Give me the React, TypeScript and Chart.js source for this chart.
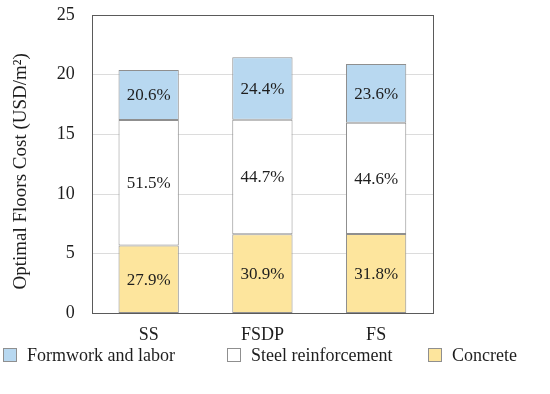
import React, { useEffect, useRef } from "react";
import { Chart, registerables } from "chart.js";

Chart.register(...registerables);

const categories = ["SS", "FSDP", "FS"];
const seriesNames = ["Concrete", "Steel reinforcement", "Formwork and labor"];
const concrete = [5.69, 6.63, 6.65];
const steel = [10.51, 9.59, 9.32];
const formwork = [4.2, 5.23, 4.93];
const concretePct = ["27.9%", "30.9%", "31.8%"];
const steelPct = ["51.5%", "44.7%", "44.6%"];
const formworkPct = ["20.6%", "24.4%", "23.6%"];
const yTicks = [0, 5, 10, 15, 20, 25];

const FONT = "'Liberation Serif', 'Times New Roman', serif";
const TEXT = "#1e1e1e";
const BORDER = "#8f8f8f";

const labelPlugin = {
  id: "segLabels",
  afterDatasetsDraw(chart: any) {
    const ctx = chart.ctx;
    ctx.save();
    ctx.font = `17px ${FONT}`;
    ctx.fillStyle = TEXT;
    ctx.textAlign = "center";
    ctx.textBaseline = "middle";
    chart.data.datasets.forEach((ds: any, di: number) => {
      const meta = chart.getDatasetMeta(di);
      meta.data.forEach((el: any, i: number) => {
        const p = el.getProps(["x", "y", "base"], true);
        ctx.fillText(ds.pctLabels[i], p.x, (p.y + p.base) / 2 + 1);
      });
    });
    ctx.restore();
  },
};

const framePlugin = {
  id: "frame",
  afterDraw(chart: any) {
    const { ctx, chartArea } = chart;
    ctx.save();
    ctx.strokeStyle = "#5a5a5a";
    ctx.lineWidth = 1;
    ctx.strokeRect(
      Math.round(chartArea.left) + 0.5,
      Math.round(chartArea.top) + 0.5,
      Math.round(chartArea.right - chartArea.left),
      Math.round(chartArea.bottom - chartArea.top)
    );
    ctx.restore();
  },
};

// legend order (dataset indices) and item box left edges
const legendOrder = [2, 1, 0];
const legendBoxX = [3, 227, 428];
const legendY = 355;

const legendPlugin = {
  id: "customLegend",
  afterDraw(chart: any) {
    const ctx = chart.ctx;
    ctx.save();
    ctx.font = `18px ${FONT}`;
    ctx.textBaseline = "middle";
    ctx.textAlign = "left";
    legendOrder.forEach((di, k) => {
      const ds = chart.data.datasets[di];
      const x = legendBoxX[k];
      ctx.fillStyle = ds.backgroundColor;
      ctx.fillRect(x, legendY - 7, 14, 14);
      ctx.strokeStyle = BORDER;
      ctx.lineWidth = 1;
      ctx.strokeRect(x + 0.5, legendY - 6.5, 13, 13);
      ctx.fillStyle = TEXT;
      ctx.fillText(ds.label, x + 24, legendY + 1);
    });
    ctx.restore();
  },
};

export default function App() {
  const ref = useRef<HTMLCanvasElement>(null);
  useEffect(() => {
    if (!ref.current) return;
    const chart = new Chart(ref.current, {
      type: "bar",
      data: {
        labels: categories,
        datasets: [
          {
            label: seriesNames[0],
            data: concrete,
            pctLabels: concretePct,
            backgroundColor: "#fde59d",
            borderColor: BORDER,
            borderWidth: 1,
            borderSkipped: false,
          } as any,
          {
            label: seriesNames[1],
            data: steel,
            pctLabels: steelPct,
            backgroundColor: "#ffffff",
            borderColor: BORDER,
            borderWidth: 1,
            borderSkipped: false,
          } as any,
          {
            label: seriesNames[2],
            data: formwork,
            pctLabels: formworkPct,
            backgroundColor: "#b8d8f0",
            borderColor: BORDER,
            borderWidth: 1,
            borderSkipped: false,
          } as any,
        ],
      },
      options: {
        responsive: false,
        animation: false,
        layout: { padding: { top: 15, right: 0, left: 10, bottom: 45 } },
        datasets: { bar: { barPercentage: 0.53, categoryPercentage: 1 } },
        plugins: {
          legend: { display: false },
          tooltip: { enabled: false },
        },
        scales: {
          x: {
            stacked: true,
            grid: { display: false },
            border: { display: false },
            ticks: { font: { family: FONT, size: 18 }, color: TEXT, padding: 3 },
          },
          y: {
            stacked: true,
            min: 0,
            max: 25,
            afterBuildTicks: (s: any) => {
              s.ticks = yTicks.map((v) => ({ value: v }));
            },
            afterFit: (s: any) => {
              s.paddingTop = 0;
              s.paddingBottom = 0;
            },
            grid: { color: "#dcdcdc", drawTicks: false },
            border: { display: false },
            ticks: { font: { family: FONT, size: 18 }, color: TEXT, padding: 17 },
            title: {
              display: true,
              text: "Optimal Floors Cost (USD/m²)   ",
              font: { family: FONT, size: 19 },
              color: TEXT,
              padding: { top: 0, bottom: 7 },
            },
          },
          y2: {
            position: "right",
            display: true,
            grid: { display: false },
            border: { display: false },
            ticks: { display: false },
            afterFit: (s: any) => {
              s.width = 117;
              s.paddingTop = 0;
              s.paddingBottom = 0;
            },
          },
        },
      },
      plugins: [labelPlugin, framePlugin, legendPlugin],
    } as any);
    return () => chart.destroy();
  }, []);
  return (
    <div style={{ position: "absolute", left: 0, top: 0, width: 550, height: 394 }}>
      <canvas ref={ref} width={550} height={394} />
    </div>
  );
}
